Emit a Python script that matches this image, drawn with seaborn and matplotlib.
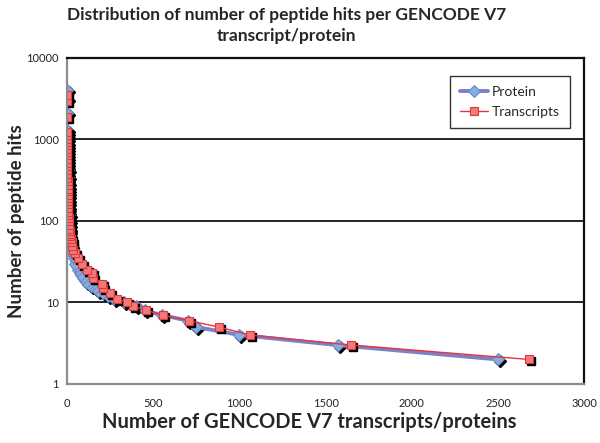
import matplotlib.pyplot as plt
import matplotlib.transforms as mtrans
import seaborn as sns
import pandas as pd

# values (peptide hits vs number of transcripts/proteins)
protein_hits = [2, 3, 4, 5, 6, 7, 8, 9, 10, 11, 12, 13, 14, 15, 16, 17, 18, 20, 22, 25,
                28, 30, 35, 40, 45, 50, 55, 60, 65, 70, 75, 80, 85, 90, 95, 100, 110, 120,
                130, 140, 150, 165, 180, 200, 220, 240, 260, 290, 320, 350, 380, 420, 460,
                500, 550, 600, 650, 700, 760, 820, 900, 1000, 1100, 1200, 1300, 2100, 3100, 4000]
protein_count = [2500, 1570, 1000, 750, 700, 550, 450, 400, 330, 270, 240, 210, 180, 160, 140,
                 125, 110, 90, 80, 65, 55, 45, 38, 30, 25, 22, 18, 15, 14, 2, 12, 10, 1, 9, 8,
                 12, 7, 10, 6, 8, 5, 7, 4, 6, 3, 5, 3, 4, 2, 3, 2, 3, 2, 2, 1, 2, 1, 1, 2, 1,
                 1, 1, 1, 1, 1, 1, 1, 1]

transcript_hits = [2, 3, 4, 5, 6, 7, 8, 9, 10, 11, 13, 15, 17, 20, 23, 25, 30, 35, 40, 44, 50,
                   55, 60, 65, 70, 75, 80, 90, 100, 110, 120, 130, 145, 160, 175, 190, 210, 230,
                   250, 280, 310, 340, 380, 420, 470, 520, 580, 640, 700, 770, 850, 930, 1020,
                   1120, 1250, 1900, 3000, 3500]
transcript_count = [2680, 1650, 1060, 880, 705, 555, 460, 380, 350, 288, 248, 208, 200, 150,
                    144, 115, 87, 63, 45, 35, 30, 26, 22, 19, 17, 15, 13, 11, 10, 9, 8, 7, 6, 6,
                    5, 5, 4, 4, 3, 3, 3, 2, 2, 2, 2, 1, 1, 1, 1, 1, 1, 1, 1, 1, 1, 1, 1, 1]

x_ticks = [0, 500, 1000, 1500, 2000, 2500, 3000]
y_ticks = [1, 10, 100, 1000, 10000]

sns.set_theme(style="white")
plt.rcParams['font.family'] = ['Lato', 'DejaVu Sans']

fig = plt.figure(figsize=(6, 4.43), dpi=100)
ax = fig.add_axes([0.1117, 0.1332, 0.862, 0.736])

df_p = pd.DataFrame({'x': protein_count, 'y': protein_hits})
df_t = pd.DataFrame({'x': transcript_count, 'y': transcript_hits})

# Excel-like drop shadow under the markers
shadow = mtrans.offset_copy(ax.transData, fig=fig, x=2, y=-2, units='dots')
ax.plot(df_p['x'], df_p['y'], ls='none', marker='D', ms=6.5, color='black', transform=shadow, zorder=2)

sns.lineplot(data=df_p, x='x', y='y', sort=False, estimator=None, ax=ax,
             color='#7c80c6', lw=2.8, marker='D', markersize=6.5,
             markerfacecolor='#86ace0', markeredgecolor='#6a8ccc', markeredgewidth=0.8,
             label='Protein', zorder=3)

ax.plot(df_t['x'], df_t['y'], ls='none', marker='s', ms=6, color='black', transform=shadow, zorder=4)

sns.lineplot(data=df_t, x='x', y='y', sort=False, estimator=None, ax=ax,
             color='#e8343a', lw=1.0, marker='s', markersize=6,
             markerfacecolor='#f07a78', markeredgecolor='#e0383a', markeredgewidth=0.8,
             label='Transcripts', zorder=5)

ax.set_yscale('log')
ax.set_xlim(0, 3000)
ax.set_ylim(1, 10000)
ax.set_xticks(x_ticks)
ax.set_xticklabels([str(v) for v in x_ticks])
ax.set_yticks(y_ticks)
ax.set_yticklabels([str(v) for v in y_ticks])
ax.minorticks_off()
ax.tick_params(axis='both', labelsize=8, colors='#222222', length=3, direction='out',
               color='#888888', pad=3)
ax.tick_params(axis='x', pad=7)

for v in [10, 100, 1000]:
    ax.axhline(v, color='#222222', lw=1.4, zorder=1)

ax.spines['left'].set_color('#8c8c8c')
ax.spines['bottom'].set_color('#8c8c8c')
ax.spines['left'].set_linewidth(1.6)
ax.spines['bottom'].set_linewidth(1.6)
ax.spines['top'].set_color('#111111')
ax.spines['right'].set_color('#111111')
ax.spines['top'].set_linewidth(1.6)
ax.spines['right'].set_linewidth(1.6)
for s in ax.spines.values():
    s.set_zorder(6)
ax.set_xlabel('')
ax.set_ylabel('')

leg = ax.legend(loc='upper right', bbox_to_anchor=(0.985, 0.965), fontsize=10,
                frameon=True, fancybox=False, handlelength=2.0, borderpad=0.7,
                labelspacing=0.6, handletextpad=0.3)
leg.get_frame().set_edgecolor('black')
leg.get_frame().set_linewidth(1.0)

fig.text(0.477, 0.985, 'Distribution of number of peptide hits per GENCODE V7\ntranscript/protein',
         ha='center', va='top', fontsize=12.5, fontweight='bold', linespacing=1.45)
fig.text(0.516, 0.047, 'Number of GENCODE V7 transcripts/proteins', ha='center', va='center',
         fontsize=14.5, fontweight='bold')
fig.text(0.028, 0.5, 'Number of peptide hits', ha='center', va='center', rotation=90,
         fontsize=13.5, fontweight='bold')

fig.savefig('out.png', dpi=100)
